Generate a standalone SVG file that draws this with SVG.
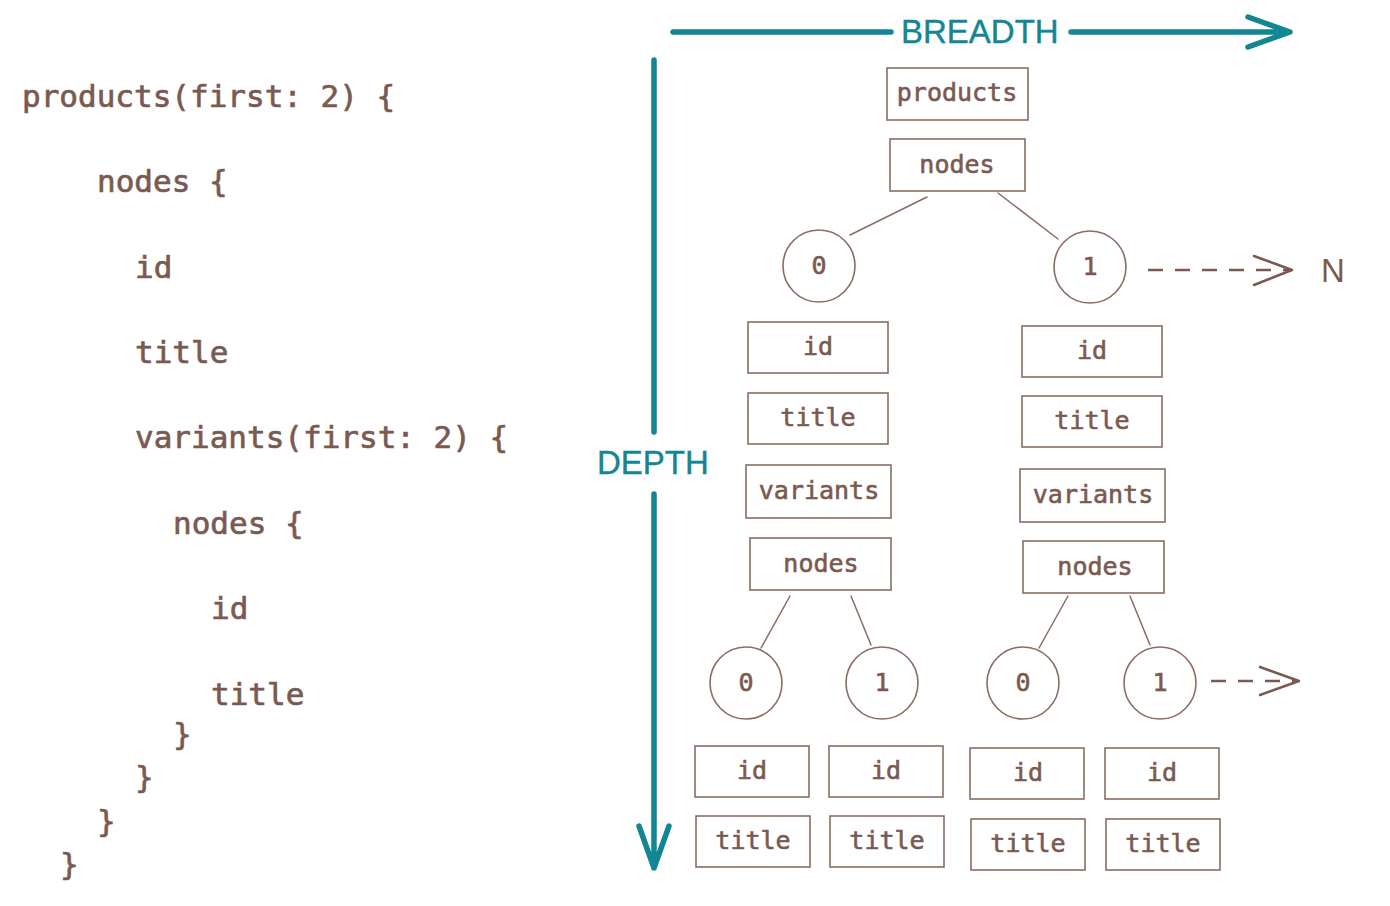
<svg xmlns="http://www.w3.org/2000/svg" width="1390" height="906" viewBox="0 0 1390 906">
<style>
.code{font-family:"DejaVu Sans Mono","Liberation Mono",monospace;font-size:31px;fill:#7a5a50;stroke:#7a5a50;stroke-width:0.7}
.lbl{font-family:"DejaVu Sans Mono","Liberation Mono",monospace;font-size:25px;fill:#7a5a50;stroke:#7a5a50;stroke-width:0.6;text-anchor:middle}
.box{fill:none;stroke:#8a6b62;stroke-width:1.6}
.circ{fill:none;stroke:#8a6b62;stroke-width:1.6}
.edge{fill:none;stroke:#8a6b62;stroke-width:1.5;stroke-linecap:round}
.dash{fill:none;stroke:#7a5a50;stroke-width:2.5;stroke-dasharray:15 12}
.head{fill:none;stroke:#7a5a50;stroke-width:2.5;stroke-linecap:round;stroke-linejoin:round}
.axis{fill:none;stroke:#138694;stroke-width:5.5;stroke-linecap:round;stroke-linejoin:round}
.axlbl{font-family:"Liberation Sans",Arial,sans-serif;font-size:33px;fill:#138694;stroke:#138694;stroke-width:0.4}
</style>
<rect width="1390" height="906" fill="#ffffff"/>

<g id="code">
<text class="code" x="22" y="107">products(first: 2) {</text>
<text class="code" x="97" y="192">nodes {</text>
<text class="code" x="135" y="278">id</text>
<text class="code" x="135" y="363">title</text>
<text class="code" x="135" y="448">variants(first: 2) {</text>
<text class="code" x="173" y="534">nodes {</text>
<text class="code" x="211" y="619">id</text>
<text class="code" x="211" y="705">title</text>
<text class="code" x="173" y="745">}</text>
<text class="code" x="135" y="788">}</text>
<text class="code" x="97" y="832">}</text>
<text class="code" x="60" y="875">}</text>
</g>

<g id="axes">
<path class="axis" d="M673 32 H891 M1071 32 H1290 M1248 17 L1290 32 L1248 47"/>
<text class="axlbl" x="901" y="43">BREADTH</text>
<path class="axis" d="M654 60 V432 M654 494 V868 M639 826 L654 868 L669 826"/>
<text class="axlbl" x="597" y="474">DEPTH</text>
</g>

<g id="connectors">
<line class="edge" x1="927" y1="197" x2="850" y2="235"/>
<line class="edge" x1="998" y1="193" x2="1058" y2="239"/>
<line class="edge" x1="790" y1="596" x2="761" y2="648"/>
<line class="edge" x1="851" y1="596" x2="871" y2="645"/>
<line class="edge" x1="1068" y1="596" x2="1039" y2="648"/>
<line class="edge" x1="1130" y1="596" x2="1150" y2="645"/>
<line class="dash" x1="1148" y1="270" x2="1290" y2="270"/>
<path class="head" d="M1254 256 L1292 270 L1254 285"/>
<line class="dash" x1="1211" y1="681" x2="1298" y2="681"/>
<path class="head" d="M1260 667 L1299 681 L1260 695"/>
</g>
<text id="n-label" x="1321" y="282" style="font-family:'Liberation Sans',Arial,sans-serif;font-size:33px;fill:#7a5a50">N</text>

<g id="products"><rect class="box" x="887" y="68" width="141" height="52"/><text class="lbl" x="957" y="101">products</text></g>
<g id="nodes"><rect class="box" x="890" y="139" width="135" height="52"/><text class="lbl" x="957" y="173">nodes</text></g>

<g id="p0"><ellipse class="circ" cx="819" cy="266" rx="36" ry="36"/><text class="lbl" x="819" y="274">0</text></g>
<g id="p1"><ellipse class="circ" cx="1090" cy="267" rx="36" ry="36"/><text class="lbl" x="1090" y="275">1</text></g>

<g id="p0-id"><rect class="box" x="748" y="322" width="140" height="51"/><text class="lbl" x="818" y="355">id</text></g>
<g id="p0-title"><rect class="box" x="748" y="393" width="140" height="51"/><text class="lbl" x="818" y="426">title</text></g>
<g id="p0-variants"><rect class="box" x="746" y="465" width="145" height="53"/><text class="lbl" x="819" y="499">variants</text></g>
<g id="p0-nodes"><rect class="box" x="750" y="538" width="141" height="52"/><text class="lbl" x="821" y="572">nodes</text></g>

<g id="p1-id"><rect class="box" x="1022" y="326" width="140" height="51"/><text class="lbl" x="1092" y="359">id</text></g>
<g id="p1-title"><rect class="box" x="1022" y="396" width="140" height="51"/><text class="lbl" x="1092" y="429">title</text></g>
<g id="p1-variants"><rect class="box" x="1020" y="469" width="145" height="53"/><text class="lbl" x="1093" y="503">variants</text></g>
<g id="p1-nodes"><rect class="box" x="1023" y="541" width="141" height="52"/><text class="lbl" x="1095" y="575">nodes</text></g>

<g id="v00"><ellipse class="circ" cx="746" cy="683" rx="36" ry="36"/><text class="lbl" x="746" y="691">0</text></g>
<g id="v01"><ellipse class="circ" cx="882" cy="683" rx="36" ry="36"/><text class="lbl" x="882" y="691">1</text></g>
<g id="v10"><ellipse class="circ" cx="1023" cy="683" rx="36" ry="36"/><text class="lbl" x="1023" y="691">0</text></g>
<g id="v11"><ellipse class="circ" cx="1160" cy="683" rx="36" ry="36"/><text class="lbl" x="1160" y="691">1</text></g>

<g id="v00-id"><rect class="box" x="695" y="746" width="114" height="51"/><text class="lbl" x="752" y="779">id</text></g>
<g id="v01-id"><rect class="box" x="829" y="746" width="114" height="51"/><text class="lbl" x="886" y="779">id</text></g>
<g id="v10-id"><rect class="box" x="970" y="748" width="114" height="51"/><text class="lbl" x="1028" y="781">id</text></g>
<g id="v11-id"><rect class="box" x="1105" y="748" width="114" height="51"/><text class="lbl" x="1162" y="781">id</text></g>

<g id="v00-title"><rect class="box" x="696" y="816" width="114" height="51"/><text class="lbl" x="753" y="849">title</text></g>
<g id="v01-title"><rect class="box" x="830" y="816" width="114" height="51"/><text class="lbl" x="887" y="849">title</text></g>
<g id="v10-title"><rect class="box" x="971" y="819" width="114" height="51"/><text class="lbl" x="1028" y="852">title</text></g>
<g id="v11-title"><rect class="box" x="1106" y="819" width="114" height="51"/><text class="lbl" x="1163" y="852">title</text></g>
</svg>
